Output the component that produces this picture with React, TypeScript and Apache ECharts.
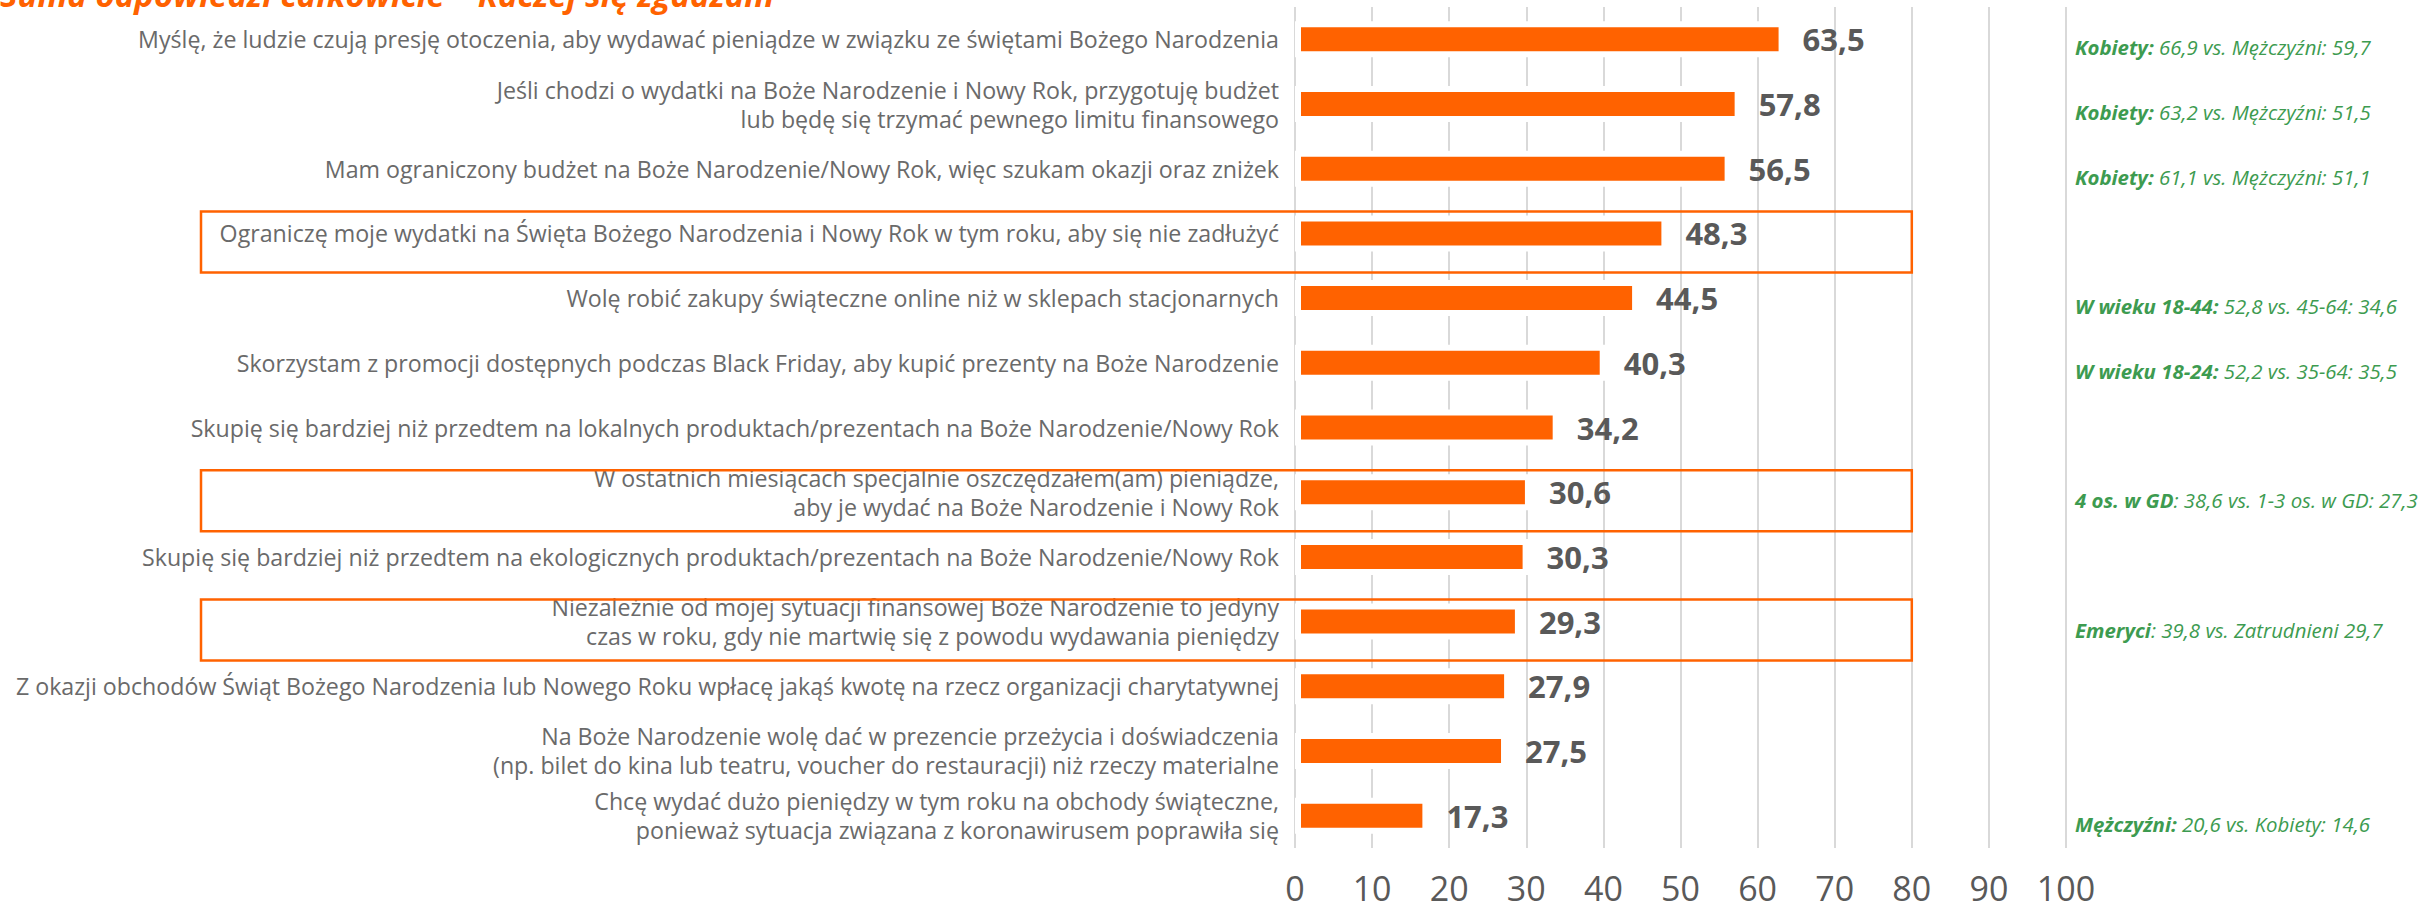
import React, { useEffect, useRef } from "react";
import * as echarts from "echarts";

const titleText = "Suma odpowiedzi całkowicie – Raczej się zgadzam";

const categories = [
  "Myślę, że ludzie czują presję otoczenia, aby wydawać pieniądze w związku ze świętami Bożego Narodzenia",
  "Jeśli chodzi o wydatki na Boże Narodzenie i Nowy Rok, przygotuję budżet\nlub będę się trzymać pewnego limitu finansowego",
  "Mam ograniczony budżet na Boże Narodzenie/Nowy Rok, więc szukam okazji oraz zniżek",
  "Ograniczę moje wydatki na Święta Bożego Narodzenia i Nowy Rok w tym roku, aby się nie zadłużyć",
  "Wolę robić zakupy świąteczne online niż w sklepach stacjonarnych",
  "Skorzystam z promocji dostępnych podczas Black Friday, aby kupić prezenty na Boże Narodzenie",
  "Skupię się bardziej niż przedtem na lokalnych produktach/prezentach na Boże Narodzenie/Nowy Rok",
  "W ostatnich miesiącach specjalnie oszczędzałem(am) pieniądze,\naby je wydać na Boże Narodzenie i Nowy Rok",
  "Skupię się bardziej niż przedtem na ekologicznych produktach/prezentach na Boże Narodzenie/Nowy Rok",
  "Niezależnie od mojej sytuacji finansowej Boże Narodzenie to jedyny\nczas w roku, gdy nie martwię się z powodu wydawania pieniędzy",
  "Z okazji obchodów Świąt Bożego Narodzenia lub Nowego Roku wpłacę jakąś kwotę na rzecz organizacji charytatywnej",
  "Na Boże Narodzenie wolę dać w prezencie przeżycia i doświadczenia\n(np. bilet do kina lub teatru, voucher do restauracji) niż rzeczy materialne",
  "Chcę wydać dużo pieniędzy w tym roku na obchody świąteczne,\nponieważ sytuacja związana z koronawirusem poprawiła się",
];

const values = [63.5, 57.8, 56.5, 48.3, 44.5, 40.3, 34.2, 30.6, 30.3, 29.3, 27.9, 27.5, 17.3];

const noteBold = [
  "Kobiety:",
  "Kobiety:",
  "Kobiety:",
  "",
  "W wieku 18-44:",
  "W wieku 18-24:",
  "",
  "4 os. w GD",
  "",
  "Emeryci",
  "",
  "",
  "Mężczyźni:",
];

const noteRest = [
  " 66,9 vs. Mężczyźni: 59,7",
  " 63,2 vs. Mężczyźni: 51,5",
  " 61,1 vs. Mężczyźni: 51,1",
  "",
  " 52,8 vs. 45-64: 34,6",
  " 52,2 vs. 35-64: 35,5",
  "",
  ": 38,6 vs. 1-3 os. w GD: 27,3",
  "",
  ": 39,8 vs. Zatrudnieni 29,7",
  "",
  "",
  " 20,6 vs. Kobiety: 14,6",
];

const boxedRows = [3, 7, 9];
const boxRightValue = 80;

const xMin = 0;
const xMax = 100;
const xInterval = 10;

const ORANGE = "#FF6200";
const GREY = "#6a6a6a";
const GREEN = "#3d9b50";
const FONT = "Open Sans";

export default function App() {
  const ref = useRef<HTMLDivElement>(null);

  useEffect(() => {
    if (!ref.current) return;
    const chart = echarts.init(ref.current, undefined, { renderer: "svg" });
    const option: any = {
      animation: false,
      backgroundColor: "#ffffff",
      textStyle: { fontFamily: FONT },
      grid: {
        left: 1295,
        top: 7,
        width: 771,
        height: 841,
        containLabel: false,
        outerBoundsMode: "none",
      },
      xAxis: {
        type: "value",
        min: xMin,
        max: xMax,
        interval: xInterval,
        axisLine: { show: false },
        axisTick: { show: false },
        splitLine: { show: true, lineStyle: { color: "#d9d9d9", width: 2 } },
        axisLabel: { fontSize: 34, color: "#595959", margin: 23, fontFamily: FONT },
      },
      yAxis: [
        {
          type: "category",
          data: categories,
          inverse: true,
          position: "left",
          axisLine: { show: false },
          axisTick: { show: false },
          axisLabel: {
            interval: 0,
            fontSize: 23.2,
            lineHeight: 29,
            color: GREY,
            margin: 16,
            align: "right",
            fontFamily: FONT,
          },
        },
        {
          type: "category",
          data: categories,
          inverse: true,
          position: "right",
          axisLine: { show: false },
          axisTick: { show: false },
          axisLabel: {
            interval: 0,
            margin: 9,
            align: "left",
            padding: [16, 0, 0, 0],
            formatter: (_v: string, i: number) =>
              noteBold[i] ? `{b|${noteBold[i]}}{r|${noteRest[i]}}` : "",
            rich: {
              b: { fontSize: 20.4, fontWeight: "bold", fontStyle: "italic", color: GREEN, fontFamily: FONT },
              r: { fontSize: 20.4, fontStyle: "italic", color: GREEN, fontFamily: FONT },
            },
          },
        },
      ],
      series: [
        {
          type: "bar",
          data: values,
          yAxisIndex: 0,
          barWidth: 36,
          itemStyle: { color: ORANGE, borderColor: "#ffffff", borderWidth: 6 },
          label: {
            show: true,
            position: "right",
            distance: 18,
            fontSize: 31,
            fontWeight: "bold",
            color: "#595959",
            fontFamily: FONT,
            formatter: (p: any) => p.value.toFixed(1).replace(".", ","),
          },
        },
      ],
      graphic: [
        {
          type: "text",
          left: 0,
          top: -22,
          style: {
            text: titleText,
            fontSize: 33,
            fontWeight: "bold",
            fontStyle: "italic",
            fill: ORANGE,
            fontFamily: FONT,
          },
        },
      ],
    };
    chart.setOption(option);

    const xRight = chart.convertToPixel({ xAxisIndex: 0 }, boxRightValue) as number;
    const boxes = boxedRows.map((row) => {
      const yc = chart.convertToPixel({ yAxisIndex: 0 }, row) as number;
      return {
        type: "rect",
        shape: { x: 201, y: yc - 22, width: xRight - 201, height: 61 },
        style: { fill: "none", stroke: ORANGE, lineWidth: 2.5 },
        z: 10,
      };
    });
    chart.setOption({ graphic: [option.graphic[0], ...boxes] });

    return () => chart.dispose();
  }, []);

  return (
    <div
      ref={ref}
      style={{ position: "fixed", left: 0, top: 0, width: 2427, height: 903 }}
    />
  );
}
